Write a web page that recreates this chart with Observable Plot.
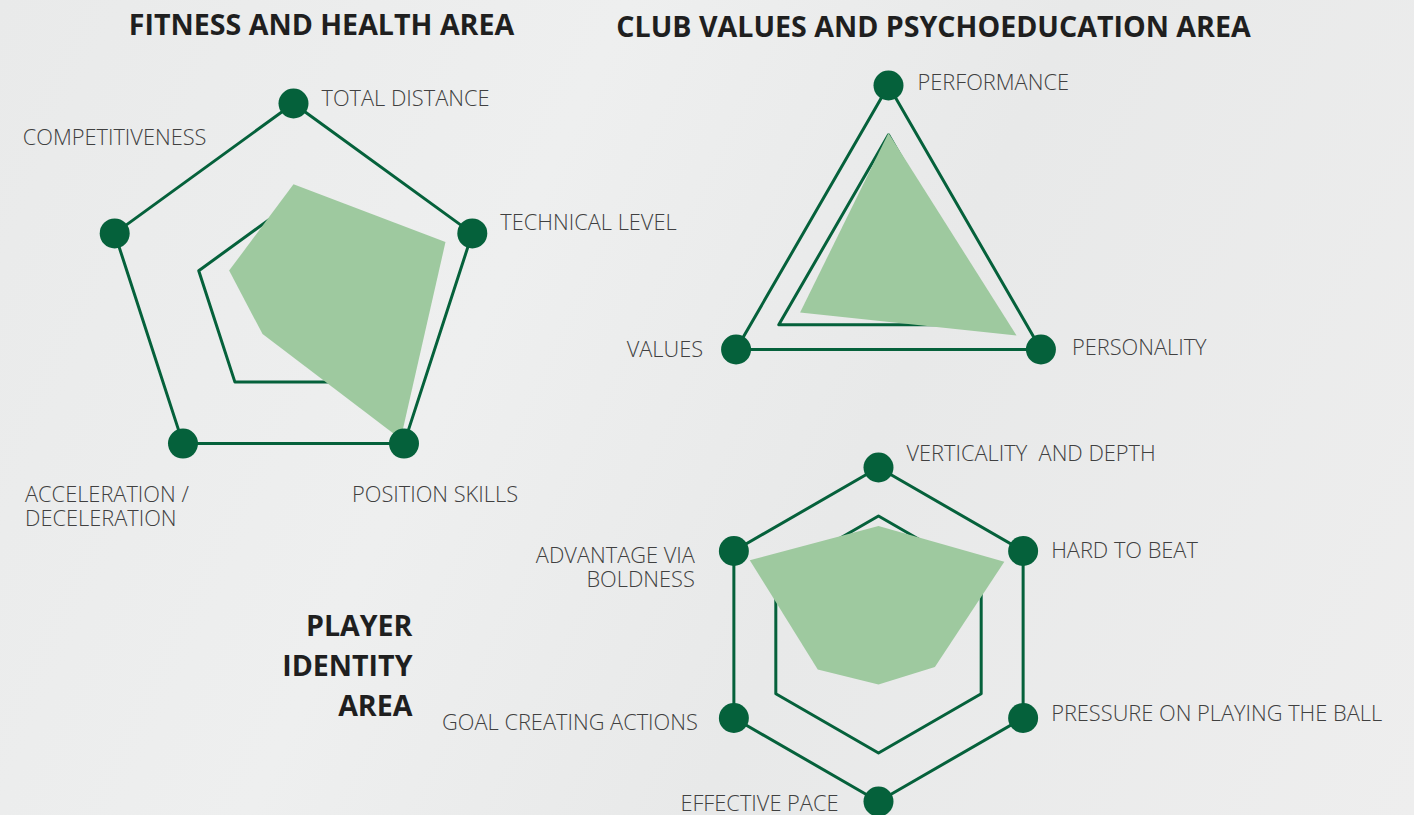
<!DOCTYPE html>
<html>
<head>
<meta charset="utf-8">
<script src="https://cdn.jsdelivr.net/npm/d3@7"></script>
<script src="https://cdn.jsdelivr.net/npm/@observablehq/plot@0.6"></script>
<style>
  html, body { margin: 0; padding: 0; }
  body {
    width: 1414px; height: 815px; overflow: hidden;
    background: linear-gradient(115deg, #e9eaea 0%, #eeefef 35%, #e8e9e9 60%, #eeeeee 100%);
  }
  #chart svg { display: block; background: transparent; }
</style>
</head>
<body>
<div id="chart"></div>
<script>
// ---------- DATA ----------
const fitnessAxes = ["TOTAL DISTANCE", "TECHNICAL LEVEL", "POSITION SKILLS", "ACCELERATION /\nDECELERATION", "COMPETITIVENESS"];
const fitnessValues = [0.57, 0.85, 0.97, 0.28, 0.36];
const fitnessRing = 0.53;

const clubAxes = ["PERFORMANCE", "PERSONALITY", "VALUES"];
const clubValues = [0.73, 0.84, 0.58];
const clubRing = 0.72;

const identityAxes = ["VERTICALITY  AND DEPTH", "HARD TO BEAT", "PRESSURE ON PLAYING THE BALL", "EFFECTIVE PACE", "GOAL CREATING ACTIONS", "ADVANTAGE VIA\nBOLDNESS"];
const identityValues = [0.65, 0.87, 0.39, 0.30, 0.42, 0.89];
const identityRing = 0.71;

const titles = ["FITNESS AND HEALTH AREA", "CLUB VALUES AND PSYCHOEDUCATION AREA", "PLAYER\nIDENTITY\nAREA"];

// ---------- LAYOUT (pixels) ----------
const W = 1414, H = 815;
const DARK = "#05613b", FILL = "#9ec99f", LABEL = "#404040", TITLE = "#1f1f1f";

const charts = [
  { axes: fitnessAxes, values: fitnessValues, ring: fitnessRing,
    cx: 293, cy: 291, R: 188, ringDy: 10,
    lab: [[28, -5, "start"], [28, -11, "start"], [31, 51, "middle"], [-158, 63, "start"], [-92, -96, "start"]] },
  { axes: clubAxes, values: clubValues, ring: clubRing,
    cx: 888, cy: 261, R: 176, ringDy: 0,
    lab: [[29, -3, "start"], [31, -2, "start"], [-33, 0, "end"]] },
  { axes: identityAxes, values: identityValues, ring: identityRing,
    cx: 878, cy: 634, R: 167, ringDy: 0,
    lab: [[28, -14, "start"], [28, -1, "start"], [28, -5, "start"], [-40, 2, "end"], [-36, 4, "end"], [-39, 16, "end"]] }
];
const titleLayout = [[321, 22, "middle"], [933, 24, "middle"], [412, 663, "end"]];

// ---------- BUILD ----------
const rings = [], fills = [], dots = [], labels = [];
charts.forEach((c, ci) => {
  const n = c.axes.length;
  const ang = i => -Math.PI / 2 + i * 2 * Math.PI / n;
  c.axes.forEach((name, i) => {
    const a = ang(i);
    const ox = c.cx + c.R * Math.cos(a), oy = c.cy + c.R * Math.sin(a);
    rings.push({ key: `o${ci}`, x: ox, y: oy });
    rings.push({ key: `i${ci}`, x: c.cx + c.R * c.ring * Math.cos(a), y: c.cy + c.ringDy + c.R * c.ring * Math.sin(a) });
    fills.push({ key: `f${ci}`, x: c.cx + c.R * c.values[i] * Math.cos(a), y: c.cy + c.R * c.values[i] * Math.sin(a) });
    dots.push({ x: ox, y: oy });
    const [dx, dy, anchor] = c.lab[i];
    labels.push({ text: name, x: ox + dx, y: oy + dy, anchor });
  });
});
const titleData = titles.map((t, i) => ({ text: t, x: titleLayout[i][0], y: titleLayout[i][1], anchor: titleLayout[i][2] }));

const labelMark = anchor => Plot.text(labels.filter(d => d.anchor === anchor), {
  x: "x", y: "y", text: "text", textAnchor: anchor, lineAnchor: "middle",
  fontFamily: "'Open Sans', sans-serif", fontWeight: 300, fontSize: 21.8, lineHeight: 1.1, fill: LABEL
});
const titleMark = anchor => Plot.text(titleData.filter(d => d.anchor === anchor), {
  x: "x", y: "y", text: "text", textAnchor: anchor, lineAnchor: "middle",
  fontFamily: "'Open Sans', sans-serif", fontWeight: 700, fontSize: 28.6, lineHeight: 1.4, fill: TITLE
});

const plot = Plot.plot({
  width: W, height: H, margin: 0,
  x: { domain: [0, W], range: [0, W], axis: null },
  y: { domain: [0, H], range: [0, H], axis: null },
  style: { background: "transparent", overflow: "visible" },
  marks: [
    Plot.line(rings, { x: "x", y: "y", z: "key", curve: "linear-closed", stroke: DARK, strokeWidth: 3, fill: "none" }),
    Plot.line(fills, { x: "x", y: "y", z: "key", curve: "linear-closed", stroke: "none", fill: FILL }),
    Plot.dot(dots, { x: "x", y: "y", r: 15, fill: DARK, stroke: "none" }),
    labelMark("start"), labelMark("middle"), labelMark("end"),
    titleMark("middle"), titleMark("end")
  ]
});
document.getElementById("chart").appendChild(plot);
</script>
</body>
</html>
